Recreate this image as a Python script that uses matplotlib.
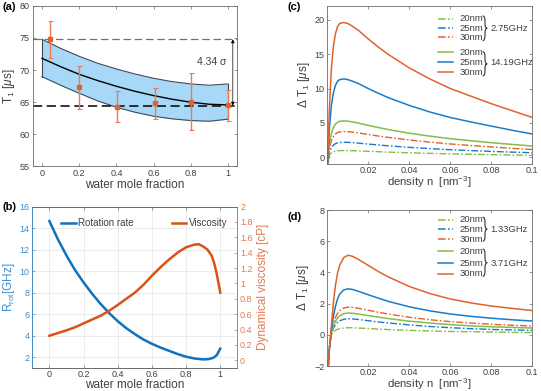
import matplotlib
matplotlib.use("Agg")
import matplotlib.pyplot as plt
from matplotlib.path import Path
from matplotlib.patches import PathPatch

plt.rcParams['font.family'] = ['Liberation Sans', 'DejaVu Sans']
plt.rcParams['mathtext.fontset'] = 'custom'
plt.rcParams['mathtext.rm'] = 'Liberation Sans'
plt.rcParams['mathtext.it'] = 'Liberation Sans:italic'
plt.rcParams['mathtext.default'] = 'regular'

# ---- panel (a): T1 vs water mole fraction
a_x = [0.045, 0.2, 0.405, 0.605, 0.8, 1.0]
a_y = [74.8, 67.3, 64.3, 64.8, 65.1, 64.5]
a_err = [2.9, 3.4, 2.4, 2.45, 4.5, 2.4]
band_x = [0, 0.1, 0.2, 0.3, 0.4, 0.5, 0.6, 0.7, 0.8, 0.9, 1.0]
band_hi = [74.78, 73.38, 72.14, 71.05, 70.17, 69.39, 68.72, 68.2, 67.84, 67.64, 67.84]
band_mid = [71.83, 70.53, 69.34, 68.36, 67.48, 66.7, 66.03, 65.46, 65.0, 64.68, 64.58]
band_lo = [68.98, 67.64, 66.39, 65.2, 64.22, 63.44, 62.82, 62.41, 62.15, 62.04, 62.36]
ref_hi = 74.78
ref_lo = 64.47

# ---- panel (b): rotation rate and viscosity
rot_x = [0, 0.05, 0.1, 0.15, 0.2, 0.25, 0.3, 0.35, 0.4, 0.45, 0.5, 0.55, 0.6,
         0.65, 0.7, 0.75, 0.8, 0.85, 0.9, 0.93, 0.96, 0.98, 1.0]
rot_y = [14.65, 12.95, 11.45, 10.1, 8.95, 7.9, 6.95, 6.1, 5.35, 4.7, 4.15, 3.65, 3.25,
         2.9, 2.6, 2.3, 2.05, 1.88, 1.8, 1.82, 1.95, 2.2, 2.8]
vis_x = [0, 0.05, 0.1, 0.15, 0.2, 0.25, 0.3, 0.35, 0.4, 0.45, 0.5, 0.55, 0.6, 0.65,
         0.7, 0.75, 0.8, 0.85, 0.875, 0.9, 0.925, 0.95, 0.965, 0.98, 1.0]
vis_y = [0.32, 0.355, 0.39, 0.43, 0.48, 0.53, 0.58, 0.645, 0.72, 0.8, 0.88, 0.98, 1.1, 1.21,
         1.31, 1.4, 1.47, 1.505, 1.51, 1.48, 1.44, 1.36, 1.26, 1.12, 0.88]

# ---- panels (c), (d): delta T1 vs density
dens = [0, 0.001, 0.002, 0.003, 0.004, 0.005, 0.006, 0.008, 0.010, 0.012, 0.015,
        0.020, 0.025, 0.030, 0.040, 0.050, 0.060, 0.070, 0.080, 0.090, 0.100]

c_lo_20 = [-2, 0.35, 0.66, 0.82, 0.91, 0.96, 0.99, 1.0, 1.0, 0.98, 0.95, 0.89, 0.83, 0.77, 0.67, 0.59, 0.52, 0.46, 0.40, 0.35, 0.30]
c_lo_25 = [-2, 0.78, 1.45, 1.8, 2.0, 2.12, 2.17, 2.2, 2.19, 2.15, 2.08, 1.94, 1.8, 1.68, 1.46, 1.28, 1.12, 0.99, 0.87, 0.77, 0.68]
c_lo_30 = [-2, 1.3, 2.45, 3.05, 3.4, 3.6, 3.7, 3.75, 3.74, 3.68, 3.57, 3.33, 3.1, 2.9, 2.53, 2.22, 1.95, 1.73, 1.52, 1.32, 1.15]
c_hi_20 = [-2, 1.9, 3.5, 4.4, 4.85, 5.1, 5.25, 5.3, 5.26, 5.17, 5.0, 4.65, 4.33, 4.03, 3.52, 3.09, 2.72, 2.42, 2.14, 1.89, 1.65]
c_hi_25 = [-2, 4.1, 7.6, 9.4, 10.5, 11.05, 11.3, 11.4, 11.3, 11.1, 10.75, 10.0, 9.3, 8.65, 7.55, 6.6, 5.8, 5.15, 4.55, 3.95, 3.4]
c_hi_30 = [-2, 7.0, 13.0, 16.2, 18.0, 19.0, 19.45, 19.6, 19.45, 19.1, 18.5, 17.2, 16.0, 14.9, 13.0, 11.4, 10.0, 8.9, 7.8, 6.8, 5.8]

d_lo_20 = [-3, -0.8, 0.0, 0.2, 0.3, 0.36, 0.4, 0.44, 0.46, 0.46, 0.44, 0.41, 0.37, 0.34, 0.29, 0.25, 0.22, 0.2, 0.18, 0.16, 0.15]
d_lo_25 = [-3, -0.8, 0.1, 0.45, 0.66, 0.8, 0.9, 1.0, 1.04, 1.03, 0.99, 0.91, 0.83, 0.76, 0.64, 0.54, 0.46, 0.40, 0.35, 0.32, 0.29]
d_lo_30 = [-3, -0.85, 0.2, 0.75, 1.12, 1.38, 1.55, 1.72, 1.78, 1.77, 1.71, 1.58, 1.45, 1.33, 1.13, 0.97, 0.85, 0.76, 0.68, 0.62, 0.57]
d_hi_20 = [-3, -0.85, 0.15, 0.6, 0.88, 1.08, 1.22, 1.36, 1.40, 1.39, 1.34, 1.24, 1.14, 1.04, 0.88, 0.76, 0.66, 0.58, 0.52, 0.48, 0.44]
d_hi_25 = [-3, -0.9, 0.35, 1.2, 1.85, 2.3, 2.6, 2.88, 2.95, 2.92, 2.8, 2.57, 2.35, 2.14, 1.8, 1.54, 1.34, 1.19, 1.07, 0.97, 0.89]
d_hi_30 = [-3, -1.0, 0.6, 2.1, 3.2, 3.95, 4.45, 4.95, 5.1, 5.05, 4.85, 4.45, 4.05, 3.7, 3.1, 2.65, 2.3, 2.05, 1.85, 1.7, 1.56]

sizes = ['20nm', '25nm', '30nm']

BLUE = '#1a7cc6'
ORANGE = '#e2622f'
GREEN = '#84bd47'
TXT = '#404040'
SP = '#6a6a6a'
DASHDOT = (0, (5, 1.5, 1.2, 1.5))


def style(ax, right=True):
    for s in ax.spines.values():
        s.set_color(SP)
        s.set_linewidth(0.6)
    ax.tick_params(direction='in', length=2.5, width=0.5, labelsize=6.5,
                   colors=SP, labelcolor=TXT, top=True, right=right, pad=2)


def brace(ax, x, y0, y1, w=0.022, d=0.03):
    ym = (y0 + y1) / 2
    xm = x + w / 2
    verts = [(x, y1), (xm, y1), (xm, y1 - d), (xm, ym + d), (xm, ym), (x + w, ym),
             (xm, ym), (xm, ym - d), (xm, y0 + d), (xm, y0), (x, y0)]
    codes = [Path.MOVETO, Path.CURVE3, Path.CURVE3, Path.LINETO, Path.CURVE3, Path.CURVE3,
             Path.CURVE3, Path.CURVE3, Path.LINETO, Path.CURVE3, Path.CURVE3]
    ax.add_patch(PathPatch(Path(verts, codes), fill=False, edgecolor='#303030', lw=0.8,
                           transform=ax.transAxes, clip_on=False))


fig = plt.figure(figsize=(5.41, 3.91), dpi=100)

# ---------------- (a)
ax = fig.add_axes([0.0604, 0.5742, 0.3782, 0.411])
ax.fill_between(band_x, band_lo, band_hi, color='#a8d8f8', lw=0)
ax.plot(band_x, band_hi, color='#3c4b5a', lw=0.8)
ax.plot(band_x, band_lo, color='#3c4b5a', lw=0.8)
ax.plot([band_x[0], band_x[0]], [band_lo[0], band_hi[0]], color='#3c4b5a', lw=0.8)
ax.plot([band_x[-1], band_x[-1]], [band_lo[-1], band_hi[-1]], color='#3c4b5a', lw=0.8)
ax.plot(band_x, band_mid, color='black', lw=1.0)
ax.axhline(ref_hi, color='#707070', ls=(0, (6, 3)), lw=0.9)
ax.axhline(ref_lo, color='black', ls=(0, (6, 3)), lw=1.1)
ax.errorbar(a_x, a_y, yerr=a_err, fmt='s', ms=3, color=ORANGE, ecolor='#ec7a52',
            elinewidth=1.0, capsize=1.8, capthick=0.8)
ax.annotate('', xy=(1.026, ref_lo), xytext=(1.026, ref_hi),
            arrowprops=dict(arrowstyle='<|-|>', color='black', lw=0.5,
                            mutation_scale=5, shrinkA=0, shrinkB=0))
ax.text(0.915, 71.3, '4.34 σ', fontsize=7.5, color=TXT, ha='center', va='center')
ax.set_xlim(-0.05, 1.05)
ax.set_ylim(55, 80)
ax.set_xticks([0, 0.2, 0.4, 0.6, 0.8, 1])
ax.set_xticklabels(['0', '0.2', '0.4', '0.6', '0.8', '1'])
ax.set_yticks([55, 60, 65, 70, 75, 80])
ax.set_xlabel('water mole fraction', fontsize=8.5, color=TXT, labelpad=0.5)
ax.set_ylabel(r'T$_1$ [$\mathit{\mu}$s]', fontsize=8.5, color=TXT, labelpad=2)
style(ax)

# ---------------- (b)
ax = fig.add_axes([0.0597, 0.0588, 0.379, 0.413])
ax2 = ax.twinx()
ax.grid(True, color='#e4e4e4', lw=0.5)
ax.set_axisbelow(True)
ax.plot(rot_x, rot_y, color='#0f72bd', lw=1.8)
ax2.plot(vis_x, vis_y, color='#d95319', lw=1.8)
ax.set_xlim(-0.1, 1.1)
ax.set_ylim(1, 16)
ax2.set_ylim(-0.1, 2)
ax.set_xticks([0, 0.2, 0.4, 0.6, 0.8, 1])
ax.set_xticklabels(['0', '0.2', '0.4', '0.6', '0.8', '1'])
ax.set_yticks(range(2, 17, 2))
ax2.set_yticks([0, 0.2, 0.4, 0.6, 0.8, 1, 1.2, 1.4, 1.6, 1.8, 2])
ax2.set_yticklabels(['0', '0.2', '0.4', '0.6', '0.8', '1', '1.2', '1.4', '1.6', '1.8', '2'])
style(ax, right=False)
ax.tick_params(axis='x', pad=1.5)
ax.tick_params(axis='y', colors='#3b8fd0', labelcolor='#3b8fd0')
for s in ax2.spines.values():
    s.set_color(SP)
    s.set_linewidth(0.6)
ax2.spines['right'].set_color('#e07a50')
ax2.spines['left'].set_color('#3b8fd0')
ax2.tick_params(direction='in', length=2.5, width=0.5, labelsize=6.5,
                colors='#e07a50', labelcolor='#e07a50', pad=2)
ax.set_xlabel('water mole fraction', fontsize=8.5, color=TXT, labelpad=0)
ax.set_ylabel(r'R$_{rot}$[GHz]', fontsize=8.5, color='#3b8fd0', labelpad=2)
ax2.set_ylabel('Dynamical viscosity [cP]', fontsize=8.5, color='#e07a50', labelpad=3)
ax.plot([0.14, 0.213], [0.898, 0.898], color='#0f72bd', lw=1.8, transform=ax.transAxes)
ax.text(0.225, 0.898, 'Rotation rate', fontsize=7, color=TXT, va='center',
        transform=ax.transAxes)
ax.plot([0.681, 0.75], [0.898, 0.898], color='#d95319', lw=1.8, transform=ax.transAxes)
ax.text(0.762, 0.898, 'Viscosity', fontsize=7, color=TXT, va='center',
        transform=ax.transAxes)


# ---------------- (c) and (d)
def delta_panel(rect, lo, hi, ylim, yticks, f_lo, f_hi, rows_lo, rows_hi, braces):
    ax = fig.add_axes(rect)
    colors = [GREEN, BLUE, ORANGE]
    for ys, c in zip(lo, colors):
        ax.plot(dens, ys, color=c, lw=1.0, ls=DASHDOT)
    for ys, c in zip(hi, colors):
        ax.plot(dens, ys, color=c, lw=1.1)
    ax.set_xlim(0, 0.1)
    ax.set_ylim(*ylim)
    ax.set_xticks([0.02, 0.04, 0.06, 0.08, 0.1])
    ax.set_xticklabels(['0.02', '0.04', '0.06', '0.08', '0.1'])
    ax.set_yticks(yticks)
    ax.set_xlabel(r'density n  [nm$^{-3}$]', fontsize=8.2, color=TXT, labelpad=-1)
    ax.set_ylabel(r'Δ T$_1$ [$\mathit{\mu}$s]', fontsize=8.5, color=TXT, labelpad=2)
    style(ax)
    ax.tick_params(axis='x', pad=1.5)
    for rows, ls, freq, (b0, b1) in [(rows_lo, DASHDOT, f_lo, braces[0]),
                                     (rows_hi, '-', f_hi, braces[1])]:
        for yy, c, lab in zip(rows, colors, sizes):
            ax.plot([0.54, 0.613], [yy, yy], color=c, lw=1.1, ls=ls,
                    transform=ax.transAxes)
            ax.text(0.643, yy, lab, fontsize=6.8, color=TXT, va='center',
                    transform=ax.transAxes)
        brace(ax, 0.758, b0, b1)
        ax.text(0.795, rows[1], freq, fontsize=6.8, color=TXT, va='center',
                transform=ax.transAxes)
    return ax


delta_panel([0.605, 0.5798, 0.379, 0.405], [c_lo_20, c_lo_25, c_lo_30],
            [c_hi_20, c_hi_25, c_hi_30], (-1, 22), [0, 5, 10, 15, 20],
            '2.75GHz', '14.19GHz', [0.918, 0.859, 0.802], [0.707, 0.644, 0.581],
            [(0.781, 0.937), (0.558, 0.711)])
delta_panel([0.605, 0.0636, 0.379, 0.3993], [d_lo_20, d_lo_25, d_lo_30],
            [d_hi_20, d_hi_25, d_hi_30], (-2, 8), [-2, 0, 2, 4, 6, 8],
            '1.33GHz', '3.71GHz', [0.937, 0.878, 0.814], [0.736, 0.658, 0.592],
            [(0.8, 0.954), (0.575, 0.75)])

# panel labels
fig.text(0.004, 0.981, '(a)', fontsize=8, fontweight='bold', va='center')
fig.text(0.004, 0.47, '(b)', fontsize=8, fontweight='bold', va='center')
fig.text(0.532, 0.981, '(c)', fontsize=8, fontweight='bold', va='center')
fig.text(0.532, 0.446, '(d)', fontsize=8, fontweight='bold', va='center')

fig.savefig('out.png', dpi=100)
